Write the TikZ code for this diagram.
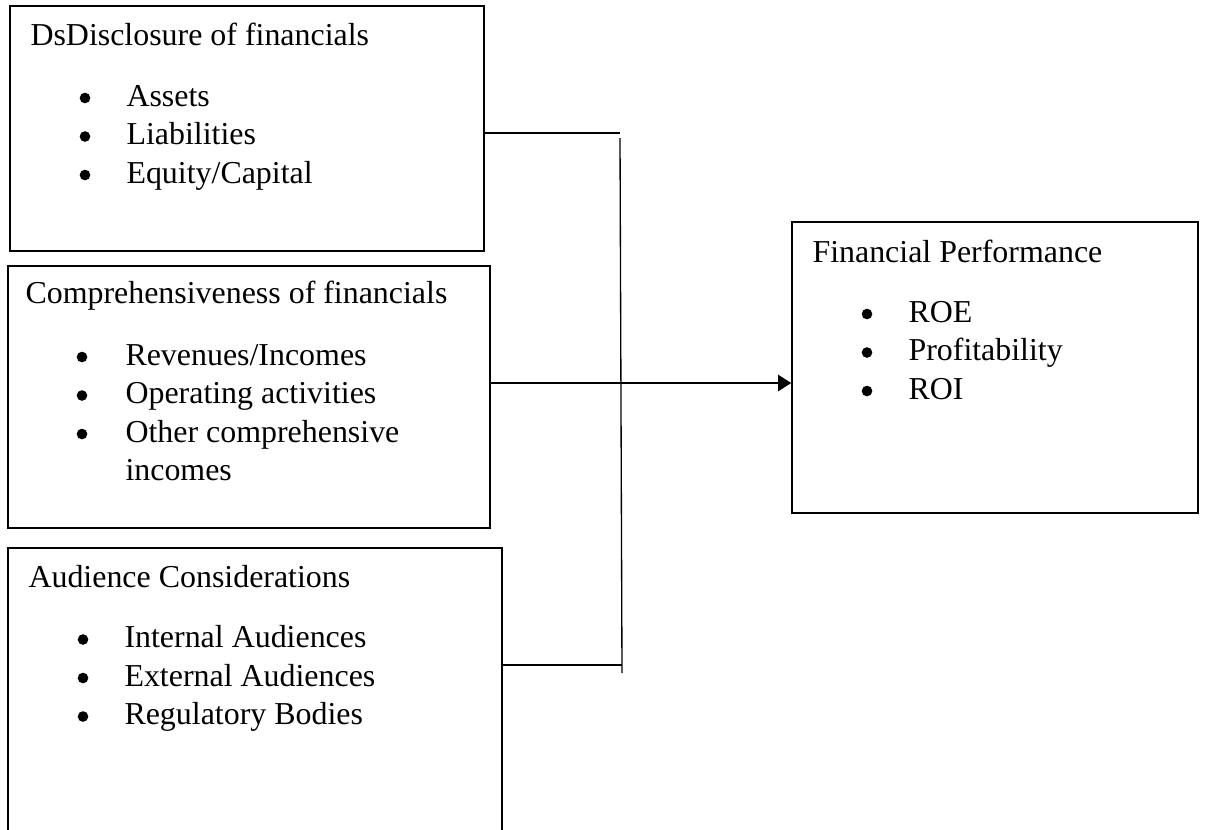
\documentclass[tikz,border=0pt]{standalone}
\usepackage{fontspec}
\setmainfont{Liberation Serif}
\usetikzlibrary{arrows.meta,fit}

\begin{document}
\begin{tikzpicture}[x=0.376pt,y=-0.376pt,
    box/.style={draw,line width=0.5pt,inner sep=0pt},
    txt/.style={anchor=base west,inner sep=0pt,font=\fontsize{12pt}{14.5pt}\selectfont},
    bul/.style={circle,fill,inner sep=0pt,minimum size=4pt},
    link/.style={line width=0.5pt},
    flow/.style={line width=1.1pt,-{Triangle[length=5pt,width=6pt]}}]
    \useasboundingbox (0,0) rectangle (1206,829);
    % the four boxes
    \node[box,fit={(10,6) (484,251)}] (disc) {};
    \node[box,fit={(8,266) (490,528)}] (comp) {};
    \node[box,fit={(8,548) (502,880)}] (aud) {};
    \node[box,fit={(792,222) (1198,513)}] (perf) {};
    % titles
    \node[txt] (disctitle) at (30,45) {DsDisclosure of financials};
    \node[txt] (comptitle) at (25,303) {Comprehensiveness of financials};
    \node[txt] (audtitle) at (28,587) {Audience Considerations};
    \node[txt] (perftitle) at (812,262) {Financial Performance};
    % bullet lists
    \foreach \t [count=\i] in {Assets,Liabilities,Equity/Capital} {
        \node[bul] (discb\i) at (85,59.5+38.5*\i) {};
        \node[txt] (disci\i) at (126,67.5+38.5*\i) {\t};
    }
    \foreach \t [count=\i] in {Revenues/Incomes,Operating activities,Other comprehensive} {
        \node[bul] (compb\i) at (82,318.5+38.5*\i) {};
        \node[txt] (compi\i) at (125,326.5+38.5*\i) {\t};
    }
    \node[txt] (compi4) at (125,480) {incomes};
    \foreach \t [count=\i] in {Internal Audiences,External Audiences,Regulatory Bodies} {
        \node[bul] (audb\i) at (83,601+38.5*\i) {};
        \node[txt] (audi\i) at (124,609+38.5*\i) {\t};
    }
    \foreach \t [count=\i] in {ROE,Profitability,ROI} {
        \node[bul] (perfb\i) at (867,275.5+38.5*\i) {};
        \node[txt] (perfi\i) at (908,283.5+38.5*\i) {\t};
    }
    % connectors
    \coordinate (j1) at (620,133);
    \coordinate (j2) at (621,383);
    \coordinate (j3) at (622,665);
    \coordinate (vtop) at (620,138);
    \coordinate (vbot) at (622,673);
    \draw[link] (j1 -| disc.east) -- (j1);
    \draw[link] (j2 -| comp.east) -- (j2);
    \draw[link] (j3 -| aud.east) -- (j3);
    \draw[link] (vtop) -- (vbot);
    \draw[flow] (j2) -- (j2 -| perf.west);
\end{tikzpicture}
\end{document}
